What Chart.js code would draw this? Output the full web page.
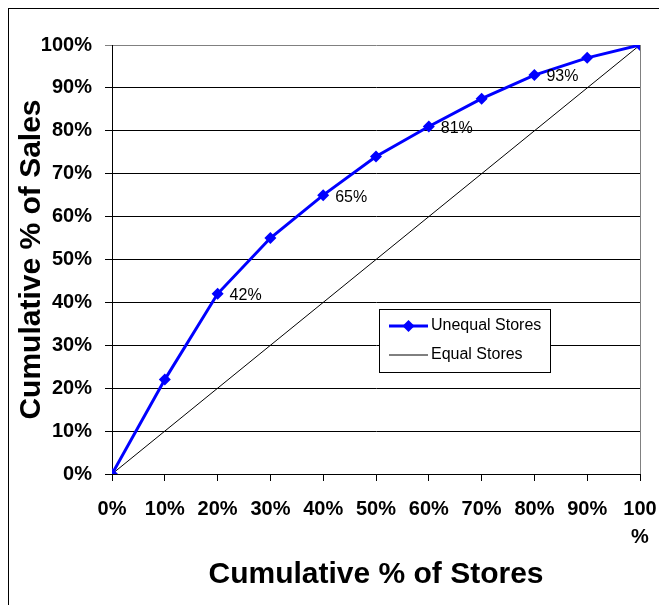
<!DOCTYPE html>
<html>
<head>
<meta charset="utf-8">
<script src="https://cdn.jsdelivr.net/npm/chart.js@4/dist/chart.umd.min.js"></script>
<style>
  body { margin: 0; background: #fff; }
</style>
</head>
<body>
<canvas id="canvas" width="659" height="605"></canvas>
<script>

// cumulative % of stores (x) and cumulative % of sales (y)
const storesPct = [0, 10, 20, 30, 40, 50, 60, 70, 80, 90, 100]
const salesPct = [0, 22, 42, 55, 65, 74, 81, 87.5, 93, 97, 100]
// line of equality
const equalPct = [0, 100]
const equalStores = [0, 100]
// points that get a value label
const labeledStores = [20, 40, 60, 80]

const FONT = '"Liberation Sans", Arial, sans-serif'

//FRAME + PLOT BORDER

const frame = {
  id: 'frame',
  beforeDraw(chart) {
    const ctx = chart.ctx
    ctx.save()
    ctx.fillStyle = '#fff'
    ctx.fillRect(0, 0, chart.width, chart.height)
    ctx.strokeStyle = '#000'
    ctx.lineWidth = 1
    ctx.strokeRect(8.5, 8.5, 800, 800)
    ctx.restore()
  },
  beforeDatasetsDraw(chart) {
    const a = chart.chartArea
    const ctx = chart.ctx
    ctx.save()
    ctx.strokeStyle = '#808080'
    ctx.lineWidth = 1
    ctx.beginPath()
    ctx.moveTo(Math.round(a.right) + 0.5, a.top)
    ctx.lineTo(Math.round(a.right) + 0.5, a.bottom)
    ctx.stroke()
    ctx.restore()
  }
}

//VALUE LABELS

const pointLabels = {
  id: 'pointLabels',
  afterDatasetsDraw(chart) {
    const ctx = chart.ctx
    const meta = chart.getDatasetMeta(0)
    ctx.save()
    ctx.font = '16px ' + FONT
    ctx.fillStyle = '#000'
    ctx.textBaseline = 'middle'
    storesPct.forEach((x, i) => {
      if (labeledStores.indexOf(x) < 0) return
      const pt = meta.data[i]
      ctx.fillText(salesPct[i] + '%', pt.x + 12, pt.y + 2)
    })
    ctx.restore()
  }
}

//LEGEND BOX

const boxLegend = {
  id: 'boxLegend',
  afterDraw(chart) {
    const ctx = chart.ctx
    const sets = chart.data.datasets
    const bx = 379.5, by = 309.5, bw = 171, bh = 63
    ctx.save()
    ctx.fillStyle = '#fff'
    ctx.fillRect(bx, by, bw, bh)
    ctx.strokeStyle = '#000'
    ctx.lineWidth = 1
    ctx.strokeRect(bx, by, bw, bh)
    ctx.font = '16px ' + FONT
    ctx.textBaseline = 'middle'
    sets.forEach((ds, i) => {
      const y = 326 + i * 29
      ctx.strokeStyle = ds.borderColor
      ctx.lineWidth = ds.borderWidth
      ctx.beginPath()
      ctx.moveTo(389, y)
      ctx.lineTo(428, y)
      ctx.stroke()
      if (ds.pointRadius > 0) {
        ctx.fillStyle = ds.pointBackgroundColor
        ctx.beginPath()
        ctx.moveTo(408.5, y - 6)
        ctx.lineTo(414.5, y)
        ctx.lineTo(408.5, y + 6)
        ctx.lineTo(402.5, y)
        ctx.closePath()
        ctx.fill()
      }
      ctx.fillStyle = '#000'
      ctx.fillText(ds.label, 431, y)
    })
    ctx.restore()
  }
}

//CHART

const ctx = document.getElementById('canvas').getContext('2d')
window.myLine = new Chart(ctx, {
  type: 'line',
  data: {
    datasets: [{
      label: 'Unequal Stores',
      data: storesPct.map((x, i) => ({ x: x, y: salesPct[i] })),
      borderColor: '#0000ff',
      backgroundColor: '#0000ff',
      pointBackgroundColor: '#0000ff',
      pointBorderColor: '#0000ff',
      borderWidth: 3,
      pointStyle: 'rectRot',
      pointRadius: 6,
      pointBorderWidth: 0,
      fill: false,
      tension: 0
    }, {
      label: 'Equal Stores',
      data: equalStores.map((x, i) => ({ x: x, y: equalPct[i] })),
      borderColor: '#000',
      backgroundColor: '#000',
      borderWidth: 1,
      pointRadius: 0,
      fill: false,
      tension: 0
    }]
  },
  options: {
    responsive: false,
    animation: false,
    layout: { padding: { left: 10, right: 19, top: 45, bottom: 0 } },
    plugins: {
      legend: { display: false },
      tooltip: { enabled: false }
    },
    scales: {
      x: {
        type: 'linear',
        min: 0,
        max: 100,
        // fixed axis height, no extra room for the last label
        afterFit: (s) => { s.height = 131; s.paddingLeft = 0; s.paddingRight = 0 },
        border: { color: '#000', width: 1 },
        grid: { drawOnChartArea: false, drawTicks: true, tickLength: 7, color: '#000' },
        ticks: {
          stepSize: 10,
          autoSkip: false,
          maxRotation: 0,
          padding: 14,
          color: '#000',
          font: { family: FONT, size: 20, weight: 'bold', lineHeight: 1.4 },
          callback: (v) => v === 100 ? ['100', '%'] : v + '%'
        },
        title: {
          display: true,
          text: 'Cumulative % of Stores',
          color: '#000',
          font: { family: FONT, size: 30, weight: 'bold' },
          padding: { top: 0, bottom: 12 }
        }
      },
      y: {
        min: 0,
        max: 100,
        afterFit: (s) => { s.width = 102; s.paddingTop = 0; s.paddingBottom = 0 },
        border: { color: '#000', width: 1 },
        grid: {
          tickLength: 7,
          color: (c) => c.tick && c.tick.value === 100 ? '#808080' : '#000'
        },
        ticks: {
          stepSize: 10,
          padding: 13,
          color: '#000',
          font: { family: FONT, size: 20, weight: 'bold' },
          callback: (v) => v + '%'
        },
        title: {
          display: true,
          text: 'Cumulative % of Sales',
          color: '#000',
          font: { family: FONT, size: 30, weight: 'bold' },
          padding: { top: 4, bottom: 0 }
        }
      }
    }
  },
  plugins: [frame, pointLabels, boxLegend]
})
</script>
</body>
</html>
